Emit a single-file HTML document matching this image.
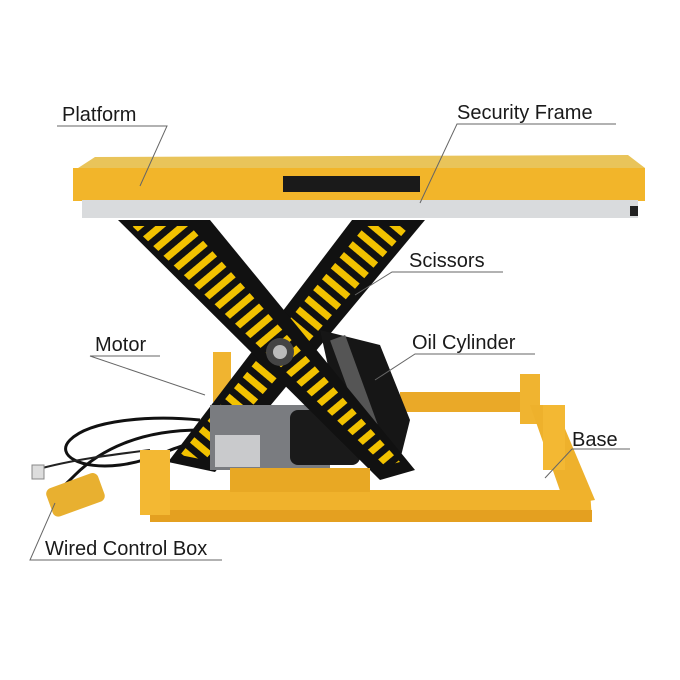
<!DOCTYPE html>
<html><head><meta charset="utf-8"><style>
html,body{margin:0;padding:0;background:#fff;}
svg{display:block}
text{font-family:"Liberation Sans",sans-serif;font-size:20px;fill:#1a1a1a;font-weight:500;}
</style></head><body>
<svg width="680" height="680" viewBox="0 0 680 680" xmlns="http://www.w3.org/2000/svg">
<defs>
<pattern id="s1" patternUnits="userSpaceOnUse" width="14" height="14" patternTransform="rotate(-50)">
<rect width="14" height="14" fill="#f2c200"/><rect width="7" height="14" fill="#111"/></pattern>
<pattern id="s2" patternUnits="userSpaceOnUse" width="14" height="14" patternTransform="rotate(50)">
<rect width="14" height="14" fill="#f2c200"/><rect width="7" height="14" fill="#111"/></pattern>
</defs>
<polygon points="400,392 530,392 530,412 400,412" fill="#eaa928"/>
<rect x="520" y="374" width="20" height="50" fill="#f0b430"/>
<rect x="213" y="352" width="18" height="50" fill="#f0b430"/>
<rect x="248" y="362" width="16" height="40" fill="#eaa928"/>
<polygon points="530,405 555,405 595,500 565,505" fill="#eeb12c"/>
<rect x="543" y="405" width="22" height="65" fill="#f3b833"/>
<path d="M200,420 C150,415 90,420 70,440 C55,455 80,470 120,465 C160,460 180,440 200,445" stroke="#111" stroke-width="3" fill="none"/>
<path d="M200,430 C140,430 100,450 75,475 C65,485 60,490 55,490" stroke="#111" stroke-width="3" fill="none"/>
<path d="M35,470 C70,460 110,455 150,450" stroke="#222" stroke-width="2" fill="none"/>
<rect x="32" y="465" width="12" height="14" fill="#ddd" stroke="#888"/>
<polygon points="352,220 425,220 215,472 168,462" fill="#111"/>
<polygon points="365,226 410,226 205,460 180,455" fill="url(#s1)"/>
<rect x="210" y="405" width="120" height="65" fill="#7a7c80"/>
<rect x="290" y="410" width="70" height="55" rx="8" fill="#1a1a1a"/>
<rect x="215" y="435" width="45" height="32" fill="#c9cacc"/>
<polygon points="320,330 380,345 410,420 400,460 340,420" fill="#161616"/>
<rect x="345" y="335" width="16" height="95" fill="#555" transform="rotate(-20 353 380)"/>
<polygon points="118,220 210,220 415,470 380,480" fill="#111"/>
<polygon points="132,226 190,226 400,462 385,466" fill="url(#s2)"/>
<circle cx="280" cy="352" r="14" fill="#444"/><circle cx="280" cy="352" r="7" fill="#bbb"/>
<polygon points="150,490 590,490 592,520 152,520" fill="#f0b22c"/>
<rect x="150" y="510" width="442" height="12" fill="#e4a020"/>
<rect x="140" y="450" width="30" height="65" fill="#f3b833"/>
<rect x="230" y="468" width="140" height="24" fill="#e8a824"/>
<rect x="48" y="480" width="55" height="30" rx="6" fill="#e8b030" transform="rotate(-20 75 495)"/>
<polygon points="95,157 628,155 645,168 75,170" fill="#e9c45a"/>
<rect x="73" y="168" width="572" height="33" fill="#f2b52a"/>
<rect x="82" y="200" width="556" height="18" fill="#d9dbdd"/>
<rect x="630" y="206" width="8" height="10" fill="#222"/>
<rect x="283" y="176" width="137" height="16" fill="#1a1a1a"/>
<g stroke="#666" stroke-width="1" fill="none">
<polyline points="57,126 167,126 140,186"/>
<polyline points="616,124 457,124 420,203"/>
<polyline points="503,272 392,272 355,295"/>
<polyline points="160,356 90,356 205,395"/>
<polyline points="535,354 415,354 375,380"/>
<polyline points="630,449 572,449 545,478"/>
<polyline points="222,560 30,560 55,503"/>
</g>
<text x="62" y="121">Platform</text>
<text x="457" y="119">Security Frame</text>
<text x="409" y="267">Scissors</text>
<text x="95" y="351">Motor</text>
<text x="412" y="349">Oil Cylinder</text>
<text x="572" y="446">Base</text>
<text x="45" y="555">Wired Control Box</text>
</svg>
</body></html>
